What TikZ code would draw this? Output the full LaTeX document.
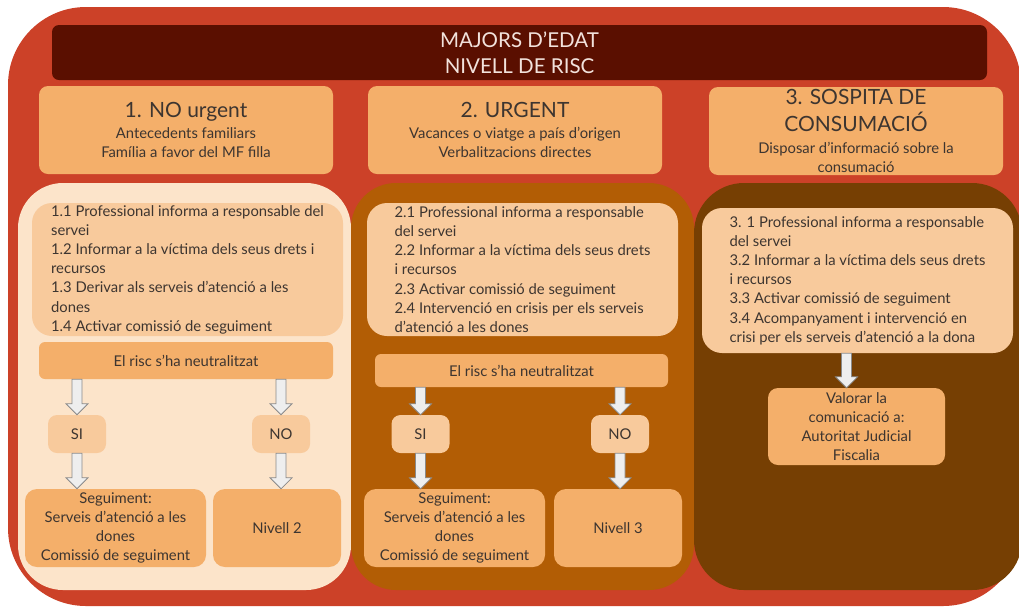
\documentclass[tikz,border=0pt]{standalone}
\usepackage{fontspec}
\setmainfont{Lato}
\usetikzlibrary{calc}
\definecolor{cred}{HTML}{CC4128}
\definecolor{cbar}{HTML}{5A0F00}
\definecolor{chead}{HTML}{F4AF6A}
\definecolor{cpanA}{HTML}{FCE4CA}
\definecolor{cpanB}{HTML}{B25D05}
\definecolor{cpanC}{HTML}{763F03}
\definecolor{clight}{HTML}{F8CA9C}
\definecolor{ctext}{HTML}{3D3530}
\definecolor{ctitle}{HTML}{F2E2DC}
\definecolor{carrfill}{HTML}{EEEEEE}
\definecolor{carrdraw}{HTML}{8A8A8A}
\newcommand\bigtxt{\fontsize{21}{26}\selectfont}
\tikzset{
  box/.style={rounded corners=9pt, text=ctext, inner sep=0pt, align=center,
    font=\fontsize{14.8}{19.2}\selectfont},
  headbox/.style={box, fill=chead, minimum width=294pt, minimum height=88pt},
  listbox/.style={box, fill=clight, rounded corners=20pt, align=left},
  orangebox/.style={box, fill=chead},
  lightbox/.style={box, fill=clight, minimum width=58pt, minimum height=38pt},
  blkarrow/.style={fill=carrfill, draw=carrdraw, line width=0.8pt, line join=miter}
}
\newcommand\blkarr[2]{%
  \draw[blkarrow] let \p1=(#1), \p2=(#2) in
    (\x1-5pt,\y1) -- (\x1+5pt,\y1) -- (\x1+5pt,\y2+11pt) -- (\x1+11pt,\y2+11pt)
    -- (\x1,\y2) -- (\x1-11pt,\y2+11pt) -- (\x1-5pt,\y2+11pt) -- cycle;}
\begin{document}
\begin{tikzpicture}[x=1pt,y=-1pt]
\useasboundingbox (0,0) rectangle (1019,606);
\fill[white] (0,0) rectangle (1019,606);
% outer frame
\fill[cred, rounded corners=78pt] (8,7) rectangle (1021,606);
% title bar
\node[box, fill=cbar, rounded corners=7pt, minimum width=935pt, minimum height=55pt,
  text=ctitle, font=\fontsize{20.5}{26}\selectfont] (title) at (519.5,52.5)
  {MAJORS D'EDAT\\NIVELL DE RISC};
% headers
\node[headbox] (h1) at (186,130) {\bigtxt 1. NO urgent\\[2pt]
  Antecedents familiars\\Família a favor del MF filla};
\node[headbox] (h2) at (515,130) {\bigtxt 2. URGENT\\[2pt]
  Vacances o viatge a país d'origen\\Verbalitzacions directes};
\node[headbox] (h3) at (856,131) {\bigtxt 3. SOSPITA DE\\[6pt]\bigtxt CONSUMACIÓ\\[3pt]
  Disposar d'informació sobre la\\consumació};
% panels
\fill[cpanA, rounded corners=45pt] (18,183) rectangle (351,590);
\fill[cpanB, rounded corners=45pt] (351,183) rectangle (694,590);
\fill[cpanC, rounded corners=50pt] (694,183) rectangle (1022,590);
% lists
\node[listbox, minimum width=311pt, minimum height=133pt] (l1) at (187.5,269.5)
  {1.1 Professional informa a responsable del\\servei\\1.2 Informar a la víctima dels seus drets i\\recursos\\1.3 Derivar als serveis d'atenció a les\\dones\\1.4 Activar comissió de seguiment};
\node[listbox, minimum width=311pt, minimum height=133pt] (l2) at (522.5,269.5)
  {2.1 Professional informa a responsable\\del servei\\2.2 Informar a la víctima dels seus drets\\i recursos\\2.3 Activar comissió de seguiment\\2.4 Intervenció en crisis per els serveis\\d'atenció a les dones};
\node[listbox, minimum width=311pt, minimum height=145pt] (l3) at (857.5,280.5)
  {3. 1 Professional informa a responsable\\del servei\\3.2 Informar a la víctima dels seus drets\\i recursos\\3.3 Activar comissió de seguiment\\3.4 Acompanyament i intervenció en\\crisi per els serveis d'atenció a la dona};
% risk boxes
\node[orangebox, rounded corners=6pt, minimum width=294pt, minimum height=37pt] (r1) at (186,360.5) {El risc s'ha neutralitzat};
\node[orangebox, rounded corners=6pt, minimum width=293pt, minimum height=33pt] (r2) at (521.5,370.5) {El risc s'ha neutralitzat};
% SI / NO
\node[lightbox] (si1) at (77,434) {SI};
\node[lightbox] (no1) at (281,434) {NO};
\node[lightbox] (si2) at (420.5,434) {SI};
\node[lightbox] (no2) at (620,434) {NO};
% results
\node[orangebox, rounded corners=12pt, minimum width=181pt, minimum height=78pt] (s1) at (115.5,528)
  {Seguiment:\\Serveis d'atenció a les\\dones\\Comissió de seguiment};
\node[orangebox, rounded corners=12pt, minimum width=128pt, minimum height=78pt] (n2) at (277,528) {Nivell 2};
\node[orangebox, rounded corners=12pt, minimum width=181pt, minimum height=78pt] (s2) at (454.5,528)
  {Seguiment:\\Serveis d'atenció a les\\dones\\Comissió de seguiment};
\node[orangebox, rounded corners=12pt, minimum width=128pt, minimum height=78pt] (n3) at (618,528) {Nivell 3};
\node[orangebox, rounded corners=10pt, minimum width=177pt, minimum height=77pt] (val) at (856.5,426.5)
  {Valorar la\\comunicació a:\\Autoritat Judicial\\Fiscalia};
% arrows
\blkarr{si1.north |- r1.south}{si1.north}
\blkarr{no1.north |- r1.south}{no1.north}
\blkarr{si1.south}{si1.south |- s1.north}
\blkarr{no1.south}{no1.south |- n2.north}
\blkarr{si2.north |- r2.south}{si2.north}
\blkarr{no2.north |- r2.south}{no2.north}
\blkarr{si2.south}{si2.south |- s2.north}
\blkarr{no2.south}{no2.south |- n3.north}
\coordinate (vtop) at ($(val.north)+(-10,0)$);
\blkarr{vtop |- l3.south}{vtop}
\end{tikzpicture}
\end{document}
